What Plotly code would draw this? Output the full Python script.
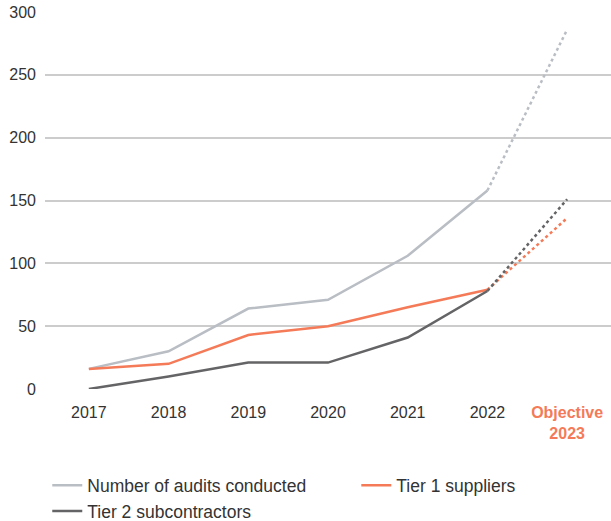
import plotly.graph_objects as go

years = ["2017", "2018", "2019", "2020", "2021", "2022", "Objective 2023"]
tick_text = ["2017", "2018", "2019", "2020", "2021", "2022",
             "<span style='color:#f47a58'><b>Objective</b></span><br><span style='color:#f47a58'><b>2023</b></span>"]
audits = [16, 30, 64, 71, 106, 158, 286]
tier1 = [16, 20, 43, 50, 65, 79, 136]
tier2 = [0, 10, 21, 21, 41, 78, 151]
y_ticks = [0, 50, 100, 150, 200, 250, 300]

series = [
    ("Number of audits conducted", audits, "#b9bdc4", "legend"),
    ("Tier 1 suppliers", tier1, "#f47a58", "legend2"),
    ("Tier 2 subcontractors", tier2, "#646466", "legend"),
]

FONT = "Liberation Sans Narrow, Liberation Sans, Arial, sans-serif"

xs = list(range(len(years)))
fig = go.Figure()
for name, vals, col, lg in series:
    fig.add_trace(go.Scatter(x=xs[:6], y=vals[:6], mode="lines", name=name, legend=lg,
                             line=dict(color=col, width=2.5)))
for name, vals, col, lg in series:
    fig.add_trace(go.Scatter(x=xs[5:], y=vals[5:], mode="lines", showlegend=False,
                             line=dict(color=col, width=2.5, dash="dot")))

leg_font = dict(family="Liberation Sans, Arial, sans-serif", size=17.5, color="#333333")
fig.update_layout(
    width=611, height=521,
    margin=dict(l=45, r=0, t=12, b=132),
    plot_bgcolor="white", paper_bgcolor="white",
    font=dict(family=FONT, size=16, color="#333333"),
    xaxis=dict(range=[-0.55, 6.55], tickvals=xs, ticktext=tick_text,
               showgrid=False, zeroline=False, showline=False, ticks="",
               ticklabelstandoff=12),
    yaxis=dict(range=[0, 300], tickvals=y_ticks, showgrid=True, gridcolor="#cccccc",
               gridwidth=1.5, zeroline=False, showline=False, ticks="",
               ticklabelstandoff=8),
    legend=dict(orientation="v", x=0.004, xanchor="left", yref="container",
                y=0.103, yanchor="top",
                font=leg_font, tracegroupgap=0, bgcolor="rgba(0,0,0,0)"),
    legend2=dict(orientation="v", x=0.55, xanchor="left", yref="container",
                 y=0.103, yanchor="top",
                 font=leg_font, bgcolor="rgba(0,0,0,0)"),
    showlegend=True,
)
fig.write_html("out.html")
